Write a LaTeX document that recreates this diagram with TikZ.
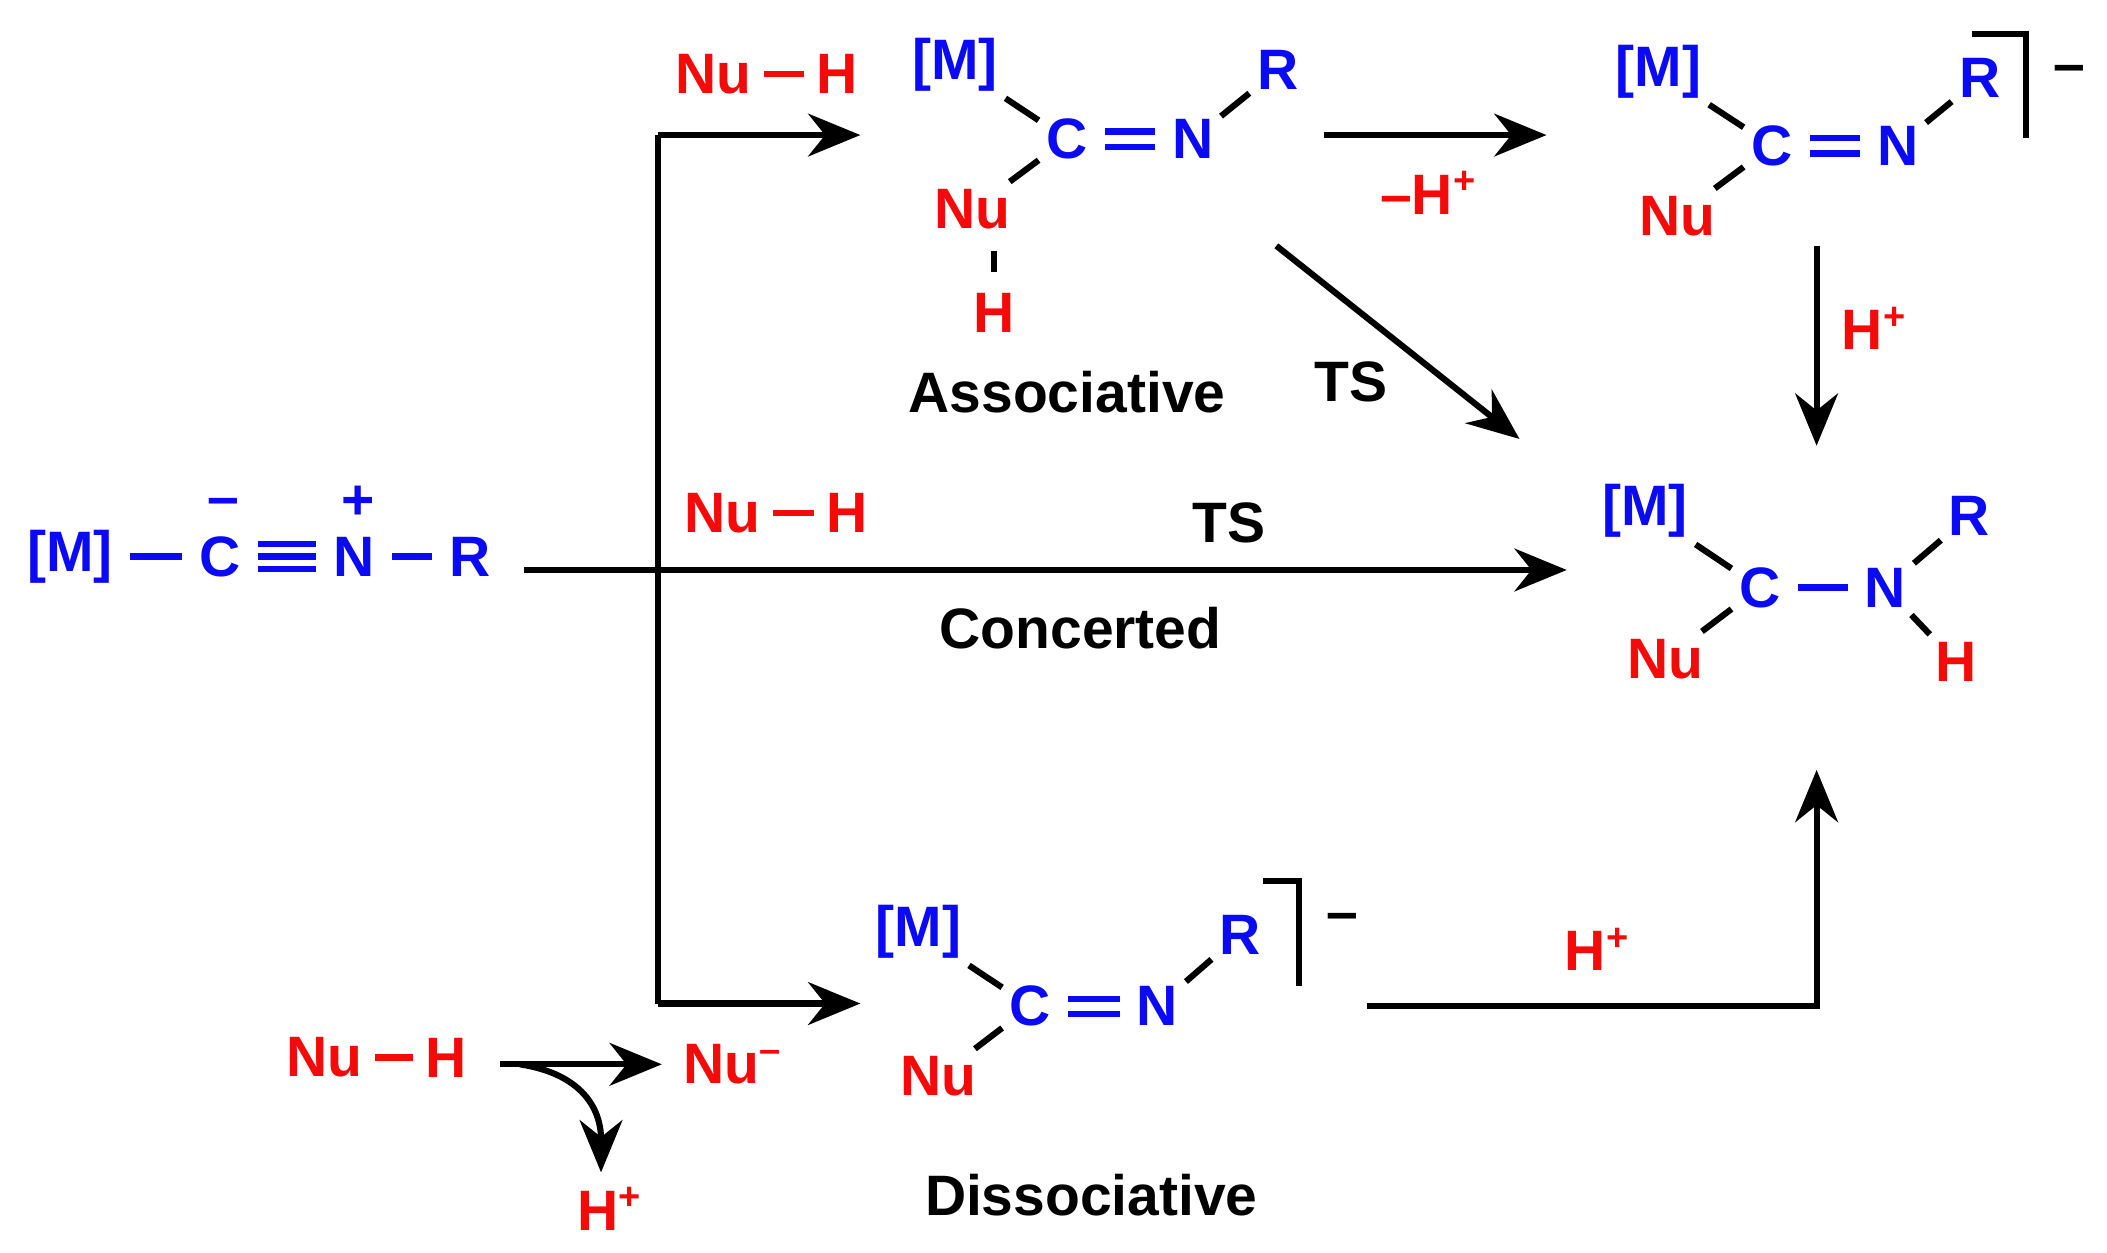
\documentclass[tikz,border=0pt]{standalone}
\usepackage{fontspec}
\setmainfont{Liberation Sans}
\usetikzlibrary{arrows.meta, positioning, calc}
\definecolor{molblue}{RGB}{10,10,245}
\definecolor{molred}{RGB}{245,10,10}
\newcommand{\chg}[1]{\textsuperscript{#1}}

\begin{document}
\begin{tikzpicture}[x=0.01cm, y=-0.01cm, line width=1.3pt,
  >={Stealth[length=11pt,width=9pt]},
  atom/.style={inner sep=1pt, font=\fontsize{12}{14}\bfseries\selectfont},
  bl/.style={atom, text=molblue},
  rd/.style={atom, text=molred},
  lbl/.style={atom, text=black},
  bond/.style={molblue, line width=1.3pt, shorten >=2pt, shorten <=2pt},
  kbond/.style={black, line width=1.3pt, shorten >=0pt, shorten <=0pt},
  hbond/.style={molred, line width=1.3pt, shorten >=1pt, shorten <=1pt},
  react/.style={black, line width=1.3pt, ->}]
  \useasboundingbox (0,0) rectangle (1560,927);

  % starting isocyanide
  \node[bl] (m0) at (52,412) {[M]};
  \node[bl] (c0) at (163,412) {C};
  \node[bl] (n0) at (262,412) {N};
  \node[bl] (r0) at (348,412) {R};
  \node[bl] at (165,376) {\textbf{--}};
  \node[bl] at (265,372) {+};
  \draw[bond] (m0) -- (c0);
  \draw[bond] (n0) -- (r0);
  \foreach \d in {-2.6,0,2.6}
    \draw[bond] ($(c0.east)+(0,\d pt)$) -- ($(n0.west)+(0,\d pt)$);

  % associative intermediate
  \node[bl] (m1) at (707,48) {[M]};
  \node[bl] (c1) at (790,103) {C};
  \node[bl] (n1) at (883,103) {N};
  \node[bl] (r1) at (946,52) {R};
  \node[rd] (nu1) at (720,155) {Nu};
  \node[rd] (h1) at (736,232) {H};
  \draw[kbond] (m1) -- (c1);
  \draw[kbond] (n1) -- (r1);
  \draw[kbond] (nu1) -- (c1);
  \draw[kbond, shorten <=3pt, shorten >=3pt] (h1.north |- nu1.south) -- (h1.north);
  \foreach \d in {-1.6,1.6}
    \draw[bond] ($(c1.east)+(0,\d pt)$) -- ($(n1.west)+(0,\d pt)$);
  \node[lbl] (assoc) at (790,290) {Associative};

  % deprotonated intermediate
  \node[bl] (m2) at (1228,53) {[M]};
  \node[bl] (c2) at (1312,108) {C};
  \node[bl] (n2) at (1405,108) {N};
  \node[bl] (r2) at (1466,58) {R};
  \node[rd] (nu2) at (1242,160) {Nu};
  \draw[kbond] (m2) -- (c2);
  \draw[kbond] (n2) -- (r2);
  \draw[kbond] (nu2) -- (c2);
  \foreach \d in {-1.6,1.6}
    \draw[bond] ($(c2.east)+(0,\d pt)$) -- ($(n2.west)+(0,\d pt)$);
  \draw (1460,25) -- (1500,25) -- (1500,102);
  \node[lbl] at (1532,55) {--};

  % product
  \node[bl] (m3) at (1218,378) {[M]};
  \node[bl] (c3) at (1303,435) {C};
  \node[bl] (n3) at (1396,435) {N};
  \node[bl] (r3) at (1458,382) {R};
  \node[rd] (nu3) at (1233,488) {Nu};
  \node[rd] (h3) at (1448,490) {H};
  \draw[kbond] (m3) -- (c3);
  \draw[kbond] (n3) -- (r3);
  \draw[kbond] (nu3) -- (c3);
  \draw[kbond] (n3) -- (h3);
  \draw[bond] (c3) -- (n3);

  % dissociative intermediate
  \node[bl] (m4) at (680,690) {[M]};
  \node[bl] (c4) at (763,745) {C};
  \node[bl] (n4) at (857,745) {N};
  \node[bl] (r4) at (918,692) {R};
  \node[rd] (nu4) at (695,797) {Nu};
  \draw[kbond] (m4) -- (c4);
  \draw[kbond] (n4) -- (r4);
  \draw[kbond] (nu4) -- (c4);
  \foreach \d in {-1.6,1.6}
    \draw[bond] ($(c4.east)+(0,\d pt)$) -- ($(n4.west)+(0,\d pt)$);
  \draw (935,652) -- (962,652) -- (962,730);
  \node[lbl] at (994,683) {--};
  \node[lbl] (dissoc) at (808,885) {Dissociative};

  % reagents
  \node[rd] (nua) at (528,55) {Nu};
  \node[rd] (ha) at (620,55) {H};
  \draw[hbond] (nua) -- (ha);
  \node[rd] (nub) at (535,380) {Nu};
  \node[rd] (hb) at (627,380) {H};
  \draw[hbond] (nub) -- (hb);
  \node[rd] (nuc) at (240,783) {Nu};
  \node[rd] (hc) at (330,783) {H};
  \draw[hbond] (nuc) -- (hc);
  \node[rd] (nud) at (543,788) {Nu\chg{--}};
  \node[rd] (hd) at (452,895) {H\chg{+}};

  % arrows
  \coordinate (s0) at (388,422);
  \coordinate (p0) at (1160,422);
  \coordinate (top) at (487,100);
  \coordinate (bot) at (487,743);
  \draw[react] (s0) -- (p0);
  \draw (top) -- (bot);
  \draw[react] (top) -- (637,100);
  \draw[react] (bot) -- (637,743);
  \node[lbl] at (910,387) {TS};
  \node[lbl] at (800,465) {Concerted};

  \draw[react] (980,100) -- (1145,100);
  \node[rd] at (1058,143) {--H\chg{+}};
  \draw[react] (1345,182) -- (1345,330);
  \node[rd] at (1388,243) {H\chg{+}};
  \draw[react] (945,182) -- (1125,325);
  \node[lbl] at (1000,283) {TS};
  \draw[react] (1012,745) -- (1345,745) -- (1345,570);
  \node[rd] at (1183,703) {H\chg{+}};

  \draw[react] (370,788) -- (490,788);
  \draw[react] (385,788) .. controls (430,795) and (445,820) .. (445,868);
\end{tikzpicture}
\end{document}
